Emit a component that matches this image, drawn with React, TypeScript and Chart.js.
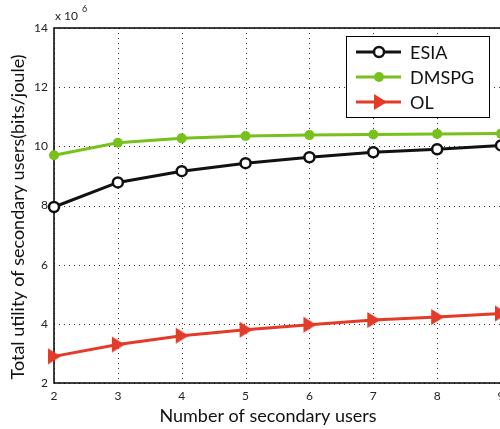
import React, { useEffect, useRef } from "react";
import { Chart, registerables } from "chart.js";

Chart.register(...registerables);

const xValues = [2, 3, 4, 5, 6, 7, 8, 9];
const esia = [7.95, 8.78, 9.16, 9.43, 9.63, 9.8, 9.9, 10.03];
const dmspg = [9.7, 10.12, 10.27, 10.35, 10.38, 10.4, 10.42, 10.43];
const ol = [2.9, 3.3, 3.6, 3.8, 3.97, 4.13, 4.23, 4.35];
const seriesNames = ["ESIA", "DMSPG", "OL"];
const yTicks = [2, 4, 6, 8, 10, 12, 14];
const xTitle = "Number of secondary users";
const yTitle = "Total utility of secondary users(bits/joule)";

const BLACK = "#111111";
const GREEN = "#78c11c";
const RED = "#e43a28";
const FONT = "Lato, 'Open Sans', sans-serif";

function drawMarker(ctx: CanvasRenderingContext2D, kind: number, x: number, y: number) {
  ctx.save();
  if (kind === 0) {
    ctx.beginPath();
    ctx.arc(x, y, 5, 0, Math.PI * 2);
    ctx.fillStyle = "#ffffff";
    ctx.fill();
    ctx.lineWidth = 2.5;
    ctx.strokeStyle = BLACK;
    ctx.stroke();
  } else if (kind === 1) {
    ctx.beginPath();
    ctx.arc(x, y, 5, 0, Math.PI * 2);
    ctx.fillStyle = GREEN;
    ctx.fill();
  } else {
    ctx.beginPath();
    ctx.moveTo(x - 5, y - 8);
    ctx.lineTo(x + 8, y);
    ctx.lineTo(x - 5, y + 8);
    ctx.closePath();
    ctx.fillStyle = RED;
    ctx.fill();
  }
  ctx.restore();
}

const gridPlugin = {
  id: "dottedGrid",
  beforeDatasetsDraw(chart: any) {
    const ctx = chart.ctx as CanvasRenderingContext2D;
    const a = chart.chartArea;
    const xs = chart.scales.x;
    const ys = chart.scales.y;
    ctx.save();
    ctx.strokeStyle = "#333";
    ctx.lineWidth = 1;
    ctx.setLineDash([1, 4]);
    for (const v of xValues) {
      const px = Math.round(xs.getPixelForValue(v)) + 0.5;
      ctx.beginPath();
      ctx.moveTo(px, a.top);
      ctx.lineTo(px, a.bottom);
      ctx.stroke();
    }
    for (const v of yTicks) {
      const py = Math.round(ys.getPixelForValue(v)) + 0.5;
      ctx.beginPath();
      ctx.moveTo(a.left, py);
      ctx.lineTo(a.right, py);
      ctx.stroke();
    }
    ctx.setLineDash([]);
    ctx.strokeStyle = "#000";
    ctx.lineWidth = 1.5;
    ctx.strokeRect(a.left, a.top, a.right - a.left, a.bottom - a.top);
    ctx.restore();
  },
};

const extrasPlugin = {
  id: "extras",
  afterDraw(chart: any) {
    const ctx = chart.ctx as CanvasRenderingContext2D;
    ctx.save();
    // axis titles
    ctx.fillStyle = "#111";
    ctx.font = `18px ${FONT}`;
    ctx.textAlign = "center";
    ctx.textBaseline = "alphabetic";
    ctx.fillText(xTitle, 268, 422);
    ctx.save();
    ctx.translate(24, 217);
    ctx.rotate(-Math.PI / 2);
    ctx.fillText(yTitle, 0, 0);
    ctx.restore();
    // exponent
    ctx.fillStyle = "#222";
    ctx.font = `12px ${FONT}`;
    ctx.textAlign = "left";
    ctx.fillText("x 10", 55, 20);
    ctx.font = `9px ${FONT}`;
    ctx.fillText("6", 82, 12);
    // legend
    const lx = 346, ly = 36, lw = 143, lh = 81;
    ctx.fillStyle = "#ffffff";
    ctx.fillRect(lx, ly, lw, lh);
    ctx.strokeStyle = "#000";
    ctx.lineWidth = 1;
    ctx.strokeRect(lx + 0.5, ly + 0.5, lw, lh);
    const colors = [BLACK, GREEN, RED];
    const rows = [52, 77, 102];
    for (let i = 0; i < 3; i++) {
      const y = rows[i];
      ctx.beginPath();
      ctx.moveTo(356, y);
      ctx.lineTo(401, y);
      ctx.lineWidth = 3;
      ctx.strokeStyle = colors[i];
      ctx.stroke();
      drawMarker(ctx, i, 379, y);
      ctx.fillStyle = "#111";
      ctx.font = `18px ${FONT}`;
      ctx.textBaseline = "middle";
      ctx.fillText(seriesNames[i], 410, y + 1);
    }
    ctx.restore();
  },
};

export default function App() {
  const ref = useRef<HTMLCanvasElement | null>(null);
  useEffect(() => {
    if (!ref.current) return;
    const mk = (data: number[]) => data.map((v, i) => ({ x: xValues[i], y: v }));
    const triangle = (() => {
      const c = document.createElement("canvas");
      c.width = 18;
      c.height = 18;
      const g = c.getContext("2d")!;
      drawMarker(g, 2, 8, 9);
      return c;
    })();
    const chart = new Chart(ref.current, {
      type: "line",
      data: {
        datasets: [
          {
            label: seriesNames[0],
            data: mk(esia),
            borderColor: BLACK,
            borderWidth: 3,
            pointRadius: 5,
            pointBorderWidth: 2.5,
            pointBackgroundColor: "#ffffff",
            pointBorderColor: BLACK,
            tension: 0,
          },
          {
            label: seriesNames[1],
            data: mk(dmspg),
            borderColor: GREEN,
            borderWidth: 3,
            pointRadius: 5,
            pointBorderWidth: 0,
            pointBackgroundColor: GREEN,
            tension: 0,
          },
          {
            label: seriesNames[2],
            data: mk(ol),
            borderColor: RED,
            borderWidth: 3,
            pointStyle: triangle as any,
            pointRadius: 8,
            tension: 0,
          },
        ],
      },
      options: {
        responsive: false,
        animation: false,
        clip: false as any,
        layout: { padding: { top: 28, right: 0, left: 0, bottom: 0 } },
        plugins: { legend: { display: false }, tooltip: { enabled: false } },
        scales: {
          x: {
            type: "linear",
            min: 2,
            max: 9,
            ticks: {
              stepSize: 1,
              color: "#222",
              font: { family: FONT, size: 12 },
              padding: 6,
            },
            grid: { color: "rgba(0,0,0,0)", drawTicks: false },
            border: { display: false },
            title: { display: false },
            afterFit: (s: any) => {
              s.height = 46;
            },
          },
          y: {
            min: 2,
            max: 14,
            afterBuildTicks: (s: any) => {
              s.ticks = yTicks.map((v) => ({ value: v }));
            },
            ticks: {
              color: "#222",
              font: { family: FONT, size: 12 },
              padding: 6,
            },
            grid: { color: "rgba(0,0,0,0)", drawTicks: false },
            border: { display: false },
            title: { display: false },
            afterFit: (s: any) => {
              s.width = 54;
            },
          },
        },
      },
      plugins: [gridPlugin, extrasPlugin],
    });
    return () => chart.destroy();
  }, []);
  return (
    <div style={{ position: "fixed", left: 0, top: 0, width: 500, height: 429, overflow: "hidden", background: "#fff" }}>
      <canvas ref={ref} width={512} height={429} style={{ display: "block" }} />
    </div>
  );
}
